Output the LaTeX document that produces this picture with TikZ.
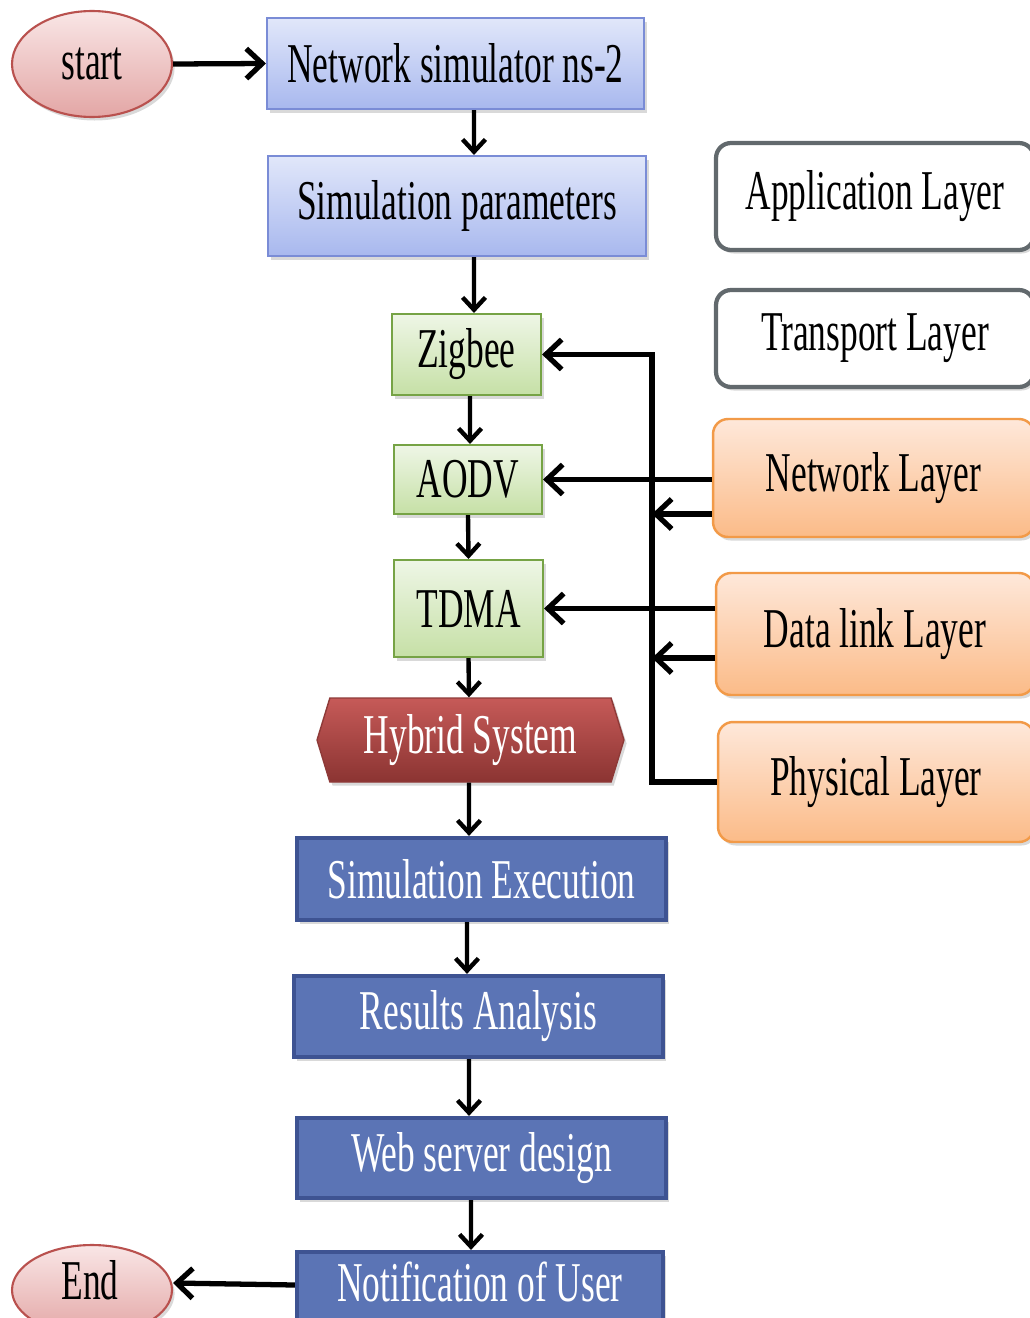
\documentclass[tikz,border=0pt]{standalone}
\usepackage{fontspec}
\setmainfont{Liberation Serif}[FakeStretch=0.63]
\usetikzlibrary{arrows.meta,shapes.geometric,shapes.symbols,shadows}
\definecolor{ovalT}{HTML}{F9E6E6}
\definecolor{ovalBot}{HTML}{E3A6A5}
\definecolor{ovalB}{HTML}{B9514E}
\definecolor{lbT}{HTML}{E1E7FA}
\definecolor{lbBot}{HTML}{A8B8EE}
\definecolor{lbB}{HTML}{7A8CD6}
\definecolor{grT}{HTML}{EEF6E6}
\definecolor{grBot}{HTML}{C6E0A6}
\definecolor{grB}{HTML}{76A345}
\definecolor{wB}{HTML}{62696D}
\definecolor{orT}{HTML}{FEE8DA}
\definecolor{orBot}{HTML}{FBBB88}
\definecolor{orB}{HTML}{F29A48}
\definecolor{hyT}{HTML}{C65A58}
\definecolor{hyBot}{HTML}{8B3432}
\definecolor{hyB}{HTML}{8E3A38}
\definecolor{dbF}{HTML}{5B74B5}
\definecolor{dbB}{HTML}{3E5392}
\begin{document}
\begin{tikzpicture}[x=0.02cm,y=-0.02cm,
  every node/.style={font=\fontsize{32}{36}\selectfont, inner sep=0pt, align=center},
  shad/.style={drop shadow={shadow xshift=1.5pt,shadow yshift=-2pt,opacity=0.3}},
  oval/.style={ellipse, draw=ovalB, line width=1.2pt, top color=ovalT, bottom color=ovalBot, shad},
  lbox/.style={rectangle, draw=lbB, line width=1.2pt, top color=lbT, bottom color=lbBot, shad},
  gbox/.style={rectangle, draw=grB, line width=1.2pt, top color=grT, bottom color=grBot, shad},
  wbox/.style={rectangle, rounded corners=0.3cm, draw=wB, line width=2.4pt, fill=white, shad},
  obox/.style={rectangle, rounded corners=0.3cm, draw=orB, line width=1.4pt, top color=orT, bottom color=orBot, shad},
  hbox/.style={signal, signal to=east and west, signal pointer angle=146, draw=hyB, line width=0.8pt, top color=hyT, bottom color=hyBot, text=white, shad},
  dbox/.style={rectangle, draw=dbB, line width=2.4pt, fill=dbF, text=white, shad},
  arr/.style={-{Straight Barb[length=7pt,width=13pt]}, line width=2.5pt},
  sarr/.style={-{Straight Barb[length=9pt,width=17pt]}, line width=3pt}
]
\useasboundingbox (0,0) rectangle (1030,1318);
\clip (0,0) rectangle (1030,1318);

\node[oval, minimum width=3.2cm, minimum height=2.12cm] (start) at (92,64) {start};
\node[lbox, minimum width=7.54cm, minimum height=1.82cm] (ns) at (455.5,63.5) {Network simulator ns-2};
\node[lbox, minimum width=7.56cm, minimum height=2cm] (sim) at (457,206) {Simulation parameters};
\node[wbox, minimum width=6.36cm, minimum height=2.14cm] (app) at (875,196.5) {Application Layer};
\node[wbox, minimum width=6.36cm, minimum height=1.94cm] (trans) at (875,338.5) {Transport Layer};
\node[obox, minimum width=6.42cm, minimum height=2.36cm] (net) at (873.5,478) {Network Layer};
\node[obox, minimum width=6.36cm, minimum height=2.44cm] (dl) at (875,634) {Data link Layer};
\node[obox, minimum width=6.32cm, minimum height=2.4cm] (phys) at (876,782) {Physical Layer};
\node[gbox, minimum width=2.98cm, minimum height=1.62cm] (zig) at (466.5,354.5) {Zigbee};
\node[gbox, minimum width=2.96cm, minimum height=1.38cm] (aodv) at (468,479.5) {AODV};
\node[gbox, minimum width=2.98cm, minimum height=1.94cm] (tdma) at (468.5,608.5) {TDMA};
\node[hbox, minimum width=6.14cm, minimum height=1.68cm] (hyb) at (470.5,740) {Hybrid System};
\node[dbox, minimum width=7.38cm, minimum height=1.64cm] (exec) at (481.5,879) {Simulation Execution};
\node[dbox, minimum width=7.38cm, minimum height=1.62cm] (res) at (478.5,1016.5) {Results Analysis};
\node[dbox, minimum width=7.38cm, minimum height=1.6cm] (web) at (481.5,1158) {Web server design};
\node[dbox, minimum width=7.32cm, minimum height=1.66cm] (notif) at (480,1293.5) {};
\node[text=white] (notifT) at (480,1282) {Notification of User};
\node[oval, minimum width=3.2cm, minimum height=1.8cm] (end) at (92,1290) {};
\node (endT) at (90,1280) {End};

% main flow
\draw[sarr] (start.east) -- (ns.west);
\draw[arr] ([xshift=0.37cm]ns.south) -- ([xshift=0.34cm]sim.north);
\draw[arr] ([xshift=0.34cm]sim.south) -- ([xshift=0.15cm]zig.north);
\draw[arr] ([xshift=0.07cm]zig.south) -- ([xshift=0.04cm]aodv.north);
\draw[arr] (aodv.south) -- (tdma.north);
\draw[arr] (tdma.south) -- ([xshift=-0.03cm]hyb.north);
\draw[arr] ([xshift=-0.03cm]hyb.south) -- ([xshift=-0.25cm]exec.north);
\draw[arr] ([xshift=-0.29cm]exec.south) -- ([xshift=-0.23cm]res.north);
\draw[arr] ([xshift=-0.19cm]res.south) -- ([xshift=-0.25cm]web.north);
\draw[arr] ([xshift=-0.21cm]web.south) -- ([xshift=-0.18cm]notif.north);
\draw[sarr] ([yshift=0.17cm]notif.west) -- ([yshift=0.14cm]end.east);

% layer connections
\coordinate (bus) at (652,782);
\coordinate (n2) at ([yshift=-0.72cm]net.west);
\coordinate (d2) at ([yshift=-0.48cm]dl.west);
\draw[sarr] (aodv.east -| net.west) -- (aodv.east);
\draw[sarr] (dl.west |- tdma.east) -- (tdma.east);
\draw[sarr] (phys.west |- bus) -- (bus) |- (zig.east);
\draw[sarr] (n2) -- (bus |- n2);
\draw[sarr] (d2) -- (bus |- d2);
\end{tikzpicture}
\end{document}
